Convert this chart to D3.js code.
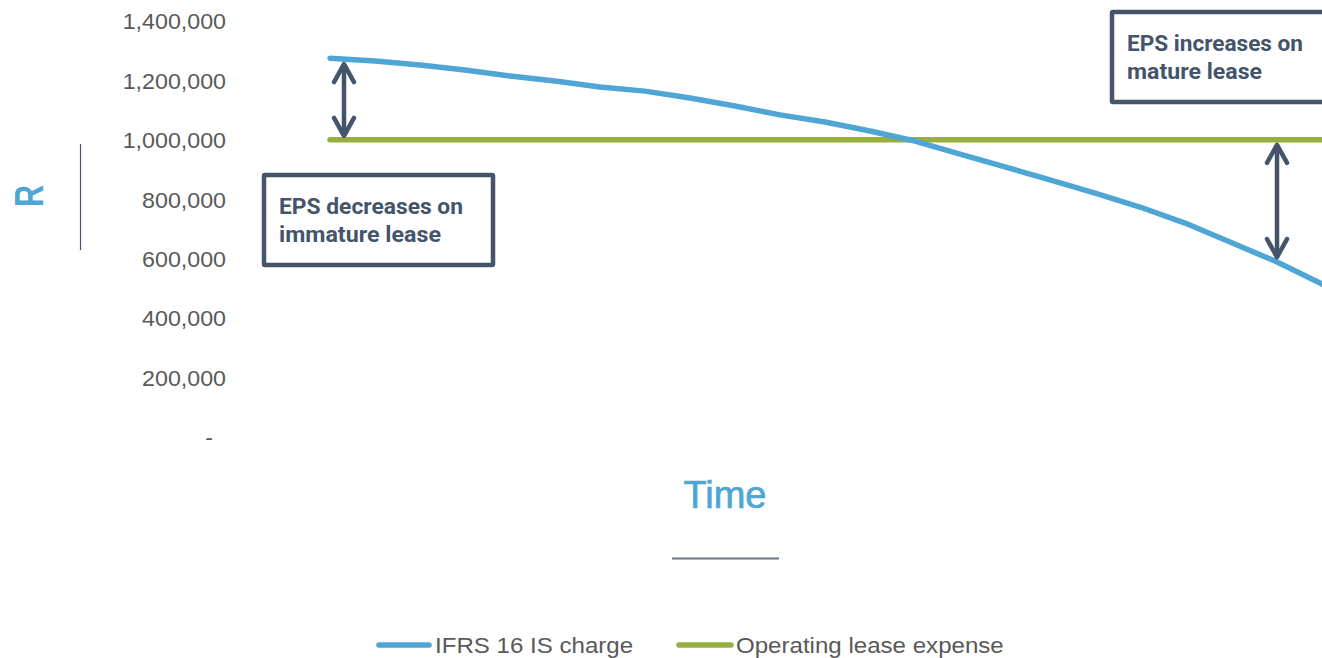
<!DOCTYPE html>
<html>
<head>
<meta charset="utf-8">
<script src="https://cdn.jsdelivr.net/npm/d3@7/dist/d3.min.js"></script>
<style>
  html, body { margin: 0; padding: 0; background: #ffffff; }
  svg { display: block; }
  text { font-family: "Liberation Sans", Arial, sans-serif; }
</style>
</head>
<body>
<svg id="chart" width="1322" height="658"></svg>
<script>
// Lease periods along the time axis
const periods = ["1","2","3","4","5","6","7","8","9","10","11","12",
                 "13","14","15","16","17","18","19","20","21","22","23","24"];
// IFRS 16 income statement charge per period (R)
const ifrsCharge = [1275000, 1265000, 1252000, 1235000, 1215000, 1198000, 1178000, 1164000,
                    1141000, 1114000, 1084000, 1060000, 1030000, 996000, 952000, 909000,
                    865000, 821000, 774000, 720000, 656000, 592000, 518000, 441000];
// Straight-line operating lease expense per period (R)
const operatingExpense = [1000000, 1000000, 1000000, 1000000, 1000000, 1000000, 1000000, 1000000,
                          1000000, 1000000, 1000000, 1000000, 1000000, 1000000, 1000000, 1000000,
                          1000000, 1000000, 1000000, 1000000, 1000000, 1000000, 1000000, 1000000];
const yTicks = [0, 200000, 400000, 600000, 800000, 1000000, 1200000, 1400000];
const seriesNames = ["IFRS 16 IS charge", "Operating lease expense"];

const BLUE = "#4fa6d5";
const GREEN = "#97ae41";
const SLATE = "#44546a";
const GREY = "#595959";

const svg = d3.select("#chart");

const x = d3.scalePoint().domain(periods).range([330, 330 + 45 * (periods.length - 1)]);
const y = d3.scaleLinear().domain([0, 1400000]).range([437, 21]);

// stretch text horizontally by a factor
function stretch(sel, k) {
  sel.each(function () {
    const w = this.getComputedTextLength();
    d3.select(this).attr("textLength", w * k).attr("lengthAdjust", "spacingAndGlyphs");
  });
}

// Y axis (no domain line, no tick marks)
const fmt = d3.format(",");
const yAxis = svg.append("g")
  .attr("transform", "translate(226,0)")
  .call(d3.axisLeft(y).tickValues(yTicks).tickSize(0).tickPadding(0)
    .tickFormat(d => d === 0 ? "-" : fmt(d)));
yAxis.select(".domain").remove();
yAxis.selectAll("text")
  .attr("fill", GREY)
  .style("font-size", "21.5px")
  .style("font-family", "'Liberation Sans', Arial, sans-serif")
  .attr("dy", "0.36em")
  .attr("x", d => d === 0 ? -13 : 0);
stretch(yAxis.selectAll("text"), 1.08);

// Y axis title and its divider
svg.append("text")
  .attr("transform", "translate(43,196) rotate(-90)")
  .attr("text-anchor", "middle")
  .attr("fill", BLUE)
  .style("font-size", "41px")
  .style("font-weight", "bold")
  .text("R")
  .call(s => s.attr("textLength", 22).attr("lengthAdjust", "spacingAndGlyphs"));
svg.append("line")
  .attr("x1", 80.5).attr("x2", 80.5).attr("y1", 144).attr("y2", 250)
  .attr("stroke", SLATE).attr("stroke-width", 1.2);

// X axis title and underline
svg.append("text")
  .attr("x", 725).attr("y", 508)
  .attr("text-anchor", "middle")
  .attr("fill", BLUE)
  .attr("stroke", BLUE)
  .attr("stroke-width", 0.7)
  .style("font-size", "38px")
  .text("Time");
svg.append("line")
  .attr("x1", 672).attr("x2", 779).attr("y1", 558.5).attr("y2", 558.5)
  .attr("stroke", "#6b7680").attr("stroke-width", 2);

// Series lines
const line = d3.line().x((d, i) => x(periods[i])).y(d => y(d));
svg.append("path")
  .datum(operatingExpense)
  .attr("d", line)
  .attr("fill", "none")
  .attr("stroke", GREEN)
  .attr("stroke-width", 5.5)
  .attr("stroke-linecap", "round");
svg.append("path")
  .datum(ifrsCharge)
  .attr("d", line)
  .attr("fill", "none")
  .attr("stroke", BLUE)
  .attr("stroke-width", 5.5)
  .attr("stroke-linejoin", "round")
  .attr("stroke-linecap", "round");

// Double-headed arrows showing the gap between the two expenses
function doubleArrow(cx, yTop, yBot) {
  const g = svg.append("g")
    .attr("fill", "none").attr("stroke", SLATE)
    .attr("stroke-width", 4.5).attr("stroke-linecap", "round").attr("stroke-linejoin", "round");
  g.append("line").attr("x1", cx).attr("x2", cx).attr("y1", yTop + 2).attr("y2", yBot - 2);
  g.append("path").attr("d", `M${cx - 10},${yTop + 18} L${cx},${yTop} L${cx + 10},${yTop + 18}`);
  g.append("path").attr("d", `M${cx - 10},${yBot - 18} L${cx},${yBot} L${cx + 10},${yBot - 18}`);
}
doubleArrow(344, y(ifrsCharge[0]) + 6, y(operatingExpense[0]) - 4);
doubleArrow(1277, y(operatingExpense[21]) + 5, y(ifrsCharge[21]) - 4);

// Annotation boxes
function noteBox(rx, ry, rw, rh, lines, tx, lengths) {
  svg.append("rect")
    .attr("x", rx).attr("y", ry).attr("width", rw).attr("height", rh)
    .attr("fill", "#ffffff").attr("stroke", SLATE).attr("stroke-width", 4.5)
    .attr("rx", 1);
  lines.forEach((t, i) => {
    svg.append("text")
      .attr("x", tx).attr("y", ry + 39 + i * 28)
      .attr("fill", SLATE)
      .style("font-family", "Roboto, 'Liberation Sans', sans-serif")
      .style("font-size", "22.5px")
      .style("font-weight", "bold")
      .attr("textLength", lengths[i])
      .attr("lengthAdjust", "spacingAndGlyphs")
      .text(t);
  });
}
noteBox(264, 175, 229, 90, ["EPS decreases on", "immature lease"], 279, [184, 162]);
noteBox(1112, 12, 260, 90, ["EPS increases on", "mature lease"], 1127, [176, 135]);

// Legend
const legendItems = [
  { name: seriesNames[0], color: BLUE, x0: 379, x1: 429, tx: 435 },
  { name: seriesNames[1], color: GREEN, x0: 679, x1: 731, tx: 736 }
];
legendItems.forEach(it => {
  svg.append("line")
    .attr("x1", it.x0).attr("x2", it.x1).attr("y1", 645).attr("y2", 645)
    .attr("stroke", it.color).attr("stroke-width", 5.5).attr("stroke-linecap", "round");
  const t = svg.append("text")
    .attr("x", it.tx).attr("y", 652.5)
    .attr("fill", GREY)
    .style("font-size", "21.5px")
    .text(it.name);
  stretch(t, 1.12);
});
</script>
</body>
</html>
